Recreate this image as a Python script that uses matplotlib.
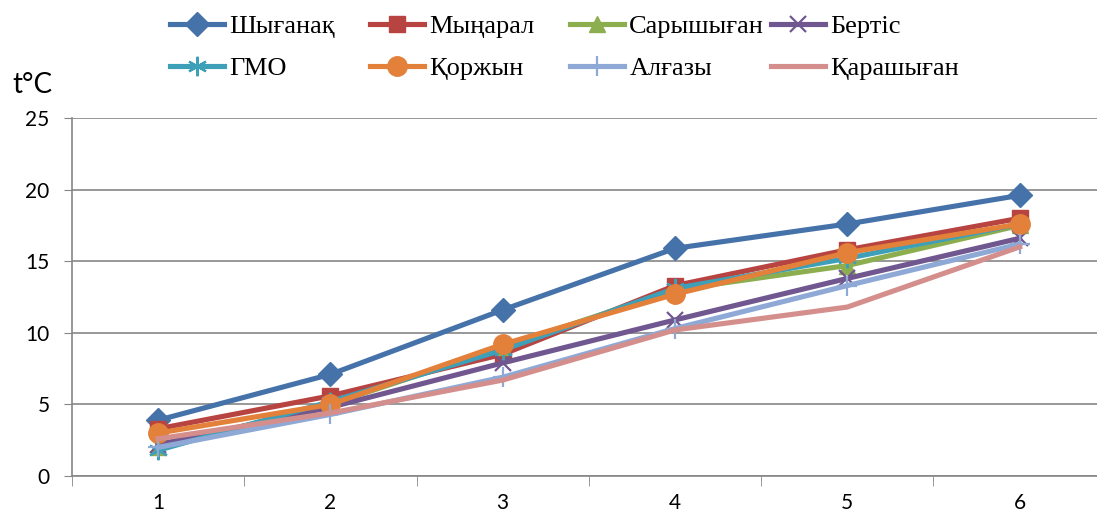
import matplotlib
matplotlib.use("Agg")
import matplotlib.pyplot as plt

x = [1, 2, 3, 4, 5, 6]
names = ["Шығанақ", "Мыңарал", "Сарышыған", "Бертіс",
         "ГМО", "Қоржын", "Алғазы", "Қарашыған"]
shyganak = [3.9, 7.1, 11.6, 15.9, 17.6, 19.6]
mynaral = [3.3, 5.6, 8.5, 13.3, 15.8, 18.0]
saryshygan = [2.0, 5.0, 9.0, 13.0, 14.7, 17.5]
bertis = [2.2, 4.8, 7.9, 10.9, 13.8, 16.6]
gmo = [1.8, 5.2, 8.8, 13.1, 15.2, 17.6]
korzhyn = [3.0, 5.0, 9.2, 12.7, 15.6, 17.6]
algazy = [2.0, 4.3, 6.9, 10.3, 13.3, 16.2]
karashygan = [2.6, 4.4, 6.7, 10.2, 11.8, 16.0]

series = [shyganak, mynaral, saryshygan, bertis, gmo, korzhyn, algazy, karashygan]
colors = ["#4672AA", "#B84441", "#8DAE4F", "#71578F",
          "#3DA0B8", "#E3803A", "#8FA9D6", "#D48F8D"]
markers = ["D", "s", "^", "x", (6, 2, 0), "o", "+", None]
msizes = [12, 12, 12, 12, 14, 14, 15, 0]
tick_font = "Lato"

fig = plt.figure(figsize=(10.97, 5.26), dpi=100)
ax = fig.add_axes([0.0656, 0.095, 0.9424, 0.6806])

handles = []
for vals, name, c, m, ms in zip(series, names, colors, markers, msizes):
    h, = ax.plot(x, vals, color=c, lw=3.7, marker=m, markersize=ms,
                 markeredgewidth=1.6 if m in ("x", "+", (6, 2, 0)) else 1,
                 markeredgecolor=c, label=name)
    handles.append(h)

ax.set_xlim(0.5, 6.5)
ax.set_ylim(0, 25)
ax.set_yticks([0, 5, 10, 15, 20, 25])
ax.set_xticks(x)
ax.set_xticks([0.5, 1.5, 2.5, 3.5, 4.5, 5.5, 6.5], minor=True)
ax.tick_params(axis="x", which="major", length=0, pad=12)
ax.tick_params(axis="x", which="minor", length=7, color="#868686", direction="out")
ax.tick_params(axis="y", length=6, color="#868686", direction="out", pad=10)
for lab in ax.get_xticklabels() + ax.get_yticklabels():
    lab.set_fontfamily(tick_font)
    lab.set_fontsize(15)
ax.grid(axis="y", color="#868686", lw=1.2)
ax.set_axisbelow(True)
for s in ["top", "right"]:
    ax.spines[s].set_visible(False)
for s in ["left", "bottom"]:
    ax.spines[s].set_color("#868686")
    ax.spines[s].set_linewidth(1.2)

# one legend per column, Excel-style equal column pitch
col_x = [170, 370, 570, 771]
for j in range(4):
    leg = fig.legend([handles[j], handles[j + 4]], [names[j], names[j + 4]],
                     loc="center left", bbox_to_anchor=(col_x[j] / 1097, 1 - 47.5 / 526),
                     frameon=False, borderpad=0, borderaxespad=0,
                     prop={"family": "Liberation Serif", "size": 19},
                     handlelength=2.05, handletextpad=0.2, labelspacing=0.7)

fig.text(12 / 1097, 1 - 93 / 526, "t°C", fontsize=20, fontfamily=tick_font)

fig.savefig("out.png", dpi=100)
